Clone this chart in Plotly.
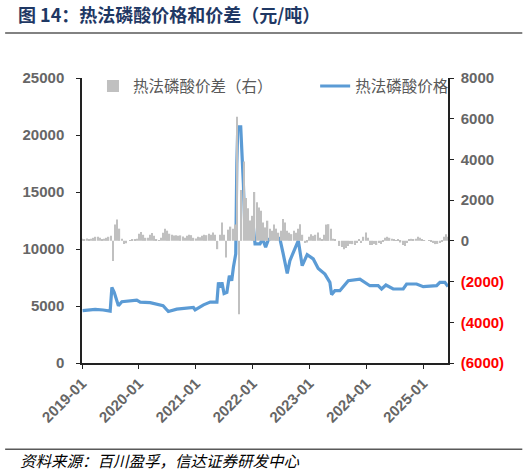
import pandas as pd
import plotly.graph_objects as go

# 热法磷酸价格（元/吨），读图所得
price_dates = [
    "2019-01-05", "2019-03-27", "2019-05-17", "2019-07-01", "2019-07-12", "2019-07-27",
    "2019-08-23", "2019-09-14", "2019-12-19", "2020-01-10", "2020-03-14", "2020-05-17",
    "2020-06-05", "2020-07-09", "2020-09-01", "2020-12-17", "2020-12-28", "2021-02-20",
    "2021-04-04", "2021-05-17", "2021-05-27", "2021-06-07", "2021-06-18", "2021-07-02",
    "2021-07-20", "2021-08-05", "2021-08-20", "2021-08-31", "2021-09-15", "2021-09-22",
    "2021-09-28", "2021-10-17", "2021-10-24", "2021-11-03", "2021-11-14", "2021-12-16",
    "2022-01-02", "2022-01-17", "2022-02-18", "2022-03-07", "2022-03-26", "2022-04-12",
    "2022-05-25", "2022-06-26", "2022-07-17", "2022-08-12", "2022-08-29", "2022-09-24",
    "2022-10-22", "2022-11-16", "2022-12-18", "2023-01-26", "2023-02-27", "2023-04-11",
    "2023-05-13", "2023-05-24", "2023-06-14", "2023-07-16", "2023-09-08", "2023-11-22",
    "2024-01-25", "2024-03-18", "2024-04-09", "2024-05-07", "2024-06-23", "2024-08-26",
    "2024-09-17", "2024-11-20", "2025-01-02", "2025-03-29", "2025-04-19", "2025-05-21",
    "2025-06-10",
]
price = [
    4600, 4700, 4650, 4550, 6630, 6200,
    5020, 5370, 5520, 5340, 5300, 5100,
    5020, 4520, 4720, 4870, 4660, 5100,
    5340, 5340, 7070, 6630, 7070, 6100,
    6200, 7660, 7220, 8390, 9570, 17490,
    20710, 20710, 17780, 15730, 11330, 11330,
    12500, 10450, 10450, 10890, 10150, 10800,
    11180, 10890, 9570, 7860, 8980, 9860,
    10740, 8540, 9510, 9130, 8300, 7800,
    7070, 6000, 6340, 6340, 7220, 7360,
    6780, 6780, 6490, 6840, 6490, 6490,
    6930, 6930, 6700, 6780, 7070, 7070,
    6700,
]

# 热法磷酸价差（元/吨，右轴），两周一个读数
spread_start = "2019-01-04"
spread = [
    100, 80, 120, 60, 100, 150, 200, 200, 150, 50,
    100, 150, 200, 250, -990, 800, 1050, 600, 100, -160,
    -120, 0, 40, 60, 50, 100, 350, 440, 300, 150,
    150, 300, 380, 250, 80, 30, 150, 400, 600, 500,
    350, 300, 260, 280, 250, 270, 220, 150, 250, 300,
    280, 150, 120, 200, 180, 250, 300, 280, 350, 300,
    410, 300, -410, 300, 900, 300, -820, 550, 700, 600,
    800, 6100, -3600, 2500, 3900, 2100, 1600, 1000, 1230, 2400,
    1900, 1640, 1480, 900, 660, 990, 600, 500, 800, 600,
    400, 500, 1070, 900, 500, 400, 330, 500, 400, 600,
    820, 300, -100, -80, 200, 330, 250, 300, 410, 150,
    50, 300, 800, 820, 600, 100, 50, 0, -250, -300,
    -410, -350, -250, -150, -160, -200, -100, 50, -100, 200,
    410, 150, -200, -200, -150, -200, -100, -160, -50, 150,
    200, 150, 100, 50, 30, 50, -80, -200, -250, -100,
    50, 100, 50, 100, 200, 150, 50, 30, 0, 30,
    -50, -100, -160, -150, -100, -50, 200, 330, 200,
]
spread_dates = pd.date_range(spread_start, periods=len(spread), freq="14D")

year_ticks = ["2019-01-01", "2020-01-01", "2021-01-01", "2022-01-01",
              "2023-01-01", "2024-01-01", "2025-01-01"]
year_labels = ["2019-01", "2020-01", "2021-01", "2022-01", "2023-01", "2024-01", "2025-01"]

left_ticks = [0, 5000, 10000, 15000, 20000, 25000]
right_ticks = [-6000, -4000, -2000, 0, 2000, 4000, 6000, 8000]


def right_label(v):
    if v < 0:
        return "<span style='color:#ff0000'>(%d)</span>" % (-v)
    return str(v)


FONT = "Liberation Sans, Arial, Noto Sans CJK SC"
CJK = "Noto Sans CJK SC, Liberation Sans"
GREY = "#666666"
AXIS = "#222222"
legend_font = dict(family=CJK, size=15.5, color="#595959")

fig = go.Figure()
fig.add_trace(go.Bar(
    x=spread_dates, y=spread, name="热法磷酸价差（右）", yaxis="y2",
    legend="legend", showlegend=True,
    marker=dict(color="#c0c0c0", line=dict(width=0)),
))
fig.add_trace(go.Scatter(
    x=pd.to_datetime(price_dates), y=price, name="热法磷酸价格", mode="lines",
    legend="legend2", showlegend=True,
    line=dict(color="#5b9bd5", width=3.2),
))

fig.update_layout(
    width=527, height=475,
    margin=dict(l=82, r=79, t=78, b=112),
    paper_bgcolor="white", plot_bgcolor="white",
    bargap=0.4,
    showlegend=True,
    title=dict(
        text="<b>图 14：热法磷酸价格和价差（元/吨）</b>",
        font=dict(family=CJK, size=18, color="#1f3864"),
        x=18 / 527, xanchor="left", xref="container",
        y=1 - 16 / 475, yanchor="middle", yref="container",
    ),
    legend=dict(visible=True, x=0.03, y=1.03, xanchor="left", yanchor="top",
                font=legend_font, bgcolor="rgba(0,0,0,0)"),
    legend2=dict(visible=True, x=0.637, y=1.03, xanchor="left", yanchor="top",
                 font=legend_font, bgcolor="rgba(0,0,0,0)"),
    xaxis=dict(
        type="date", range=["2019-01-01", "2025-06-10"],
        tickvals=year_ticks, ticktext=year_labels, tickangle=-45,
        tickfont=dict(family=FONT, size=15, color=GREY, weight="bold"),
        showgrid=False, zeroline=False, automargin=False,
        showline=True, linecolor=AXIS, linewidth=1.5,
        ticks="outside", ticklen=4, tickcolor=AXIS,
    ),
    yaxis=dict(
        range=[0, 25000], tickvals=left_ticks, ticktext=[str(v) for v in left_ticks],
        tickfont=dict(family=FONT, size=15, color=GREY, weight="bold"),
        showgrid=False, zeroline=False, automargin=False, ticklabelstandoff=9,
        showline=True, linecolor=AXIS, linewidth=1.5,
        ticks="outside", ticklen=4, tickcolor=AXIS,
    ),
    yaxis2=dict(
        range=[-6000, 8000], overlaying="y", side="right",
        tickvals=right_ticks, ticktext=[right_label(v) for v in right_ticks],
        tickfont=dict(family=FONT, size=15, color=GREY, weight="bold"),
        showgrid=False, zeroline=False, automargin=False, ticklabelstandoff=4,
        showline=True, linecolor=AXIS, linewidth=1.5,
        ticks="outside", ticklen=4, tickcolor=AXIS,
    ),
)

# 标题下与来源上方的分隔线
fig.add_shape(type="line", xref="paper", yref="paper",
              x0=-0.21, x1=1.203, y0=1.158, y1=1.158,
              line=dict(color="#595959", width=1.5))
fig.add_shape(type="line", xref="paper", yref="paper",
              x0=-0.21, x1=1.203, y0=-0.303, y1=-0.303,
              line=dict(color="#595959", width=1.5))

fig.add_annotation(
    text="<i>资料来源：百川盈孚，信达证券研发中心</i>",
    xref="paper", yref="paper", x=-0.175, y=-0.342,
    xanchor="left", yanchor="middle", showarrow=False,
    font=dict(family=CJK, size=15.5, color="#000000"),
)

fig.write_html("out.html", config={"displayModeBar": False},
               post_script="document.body.style.margin='0';")
